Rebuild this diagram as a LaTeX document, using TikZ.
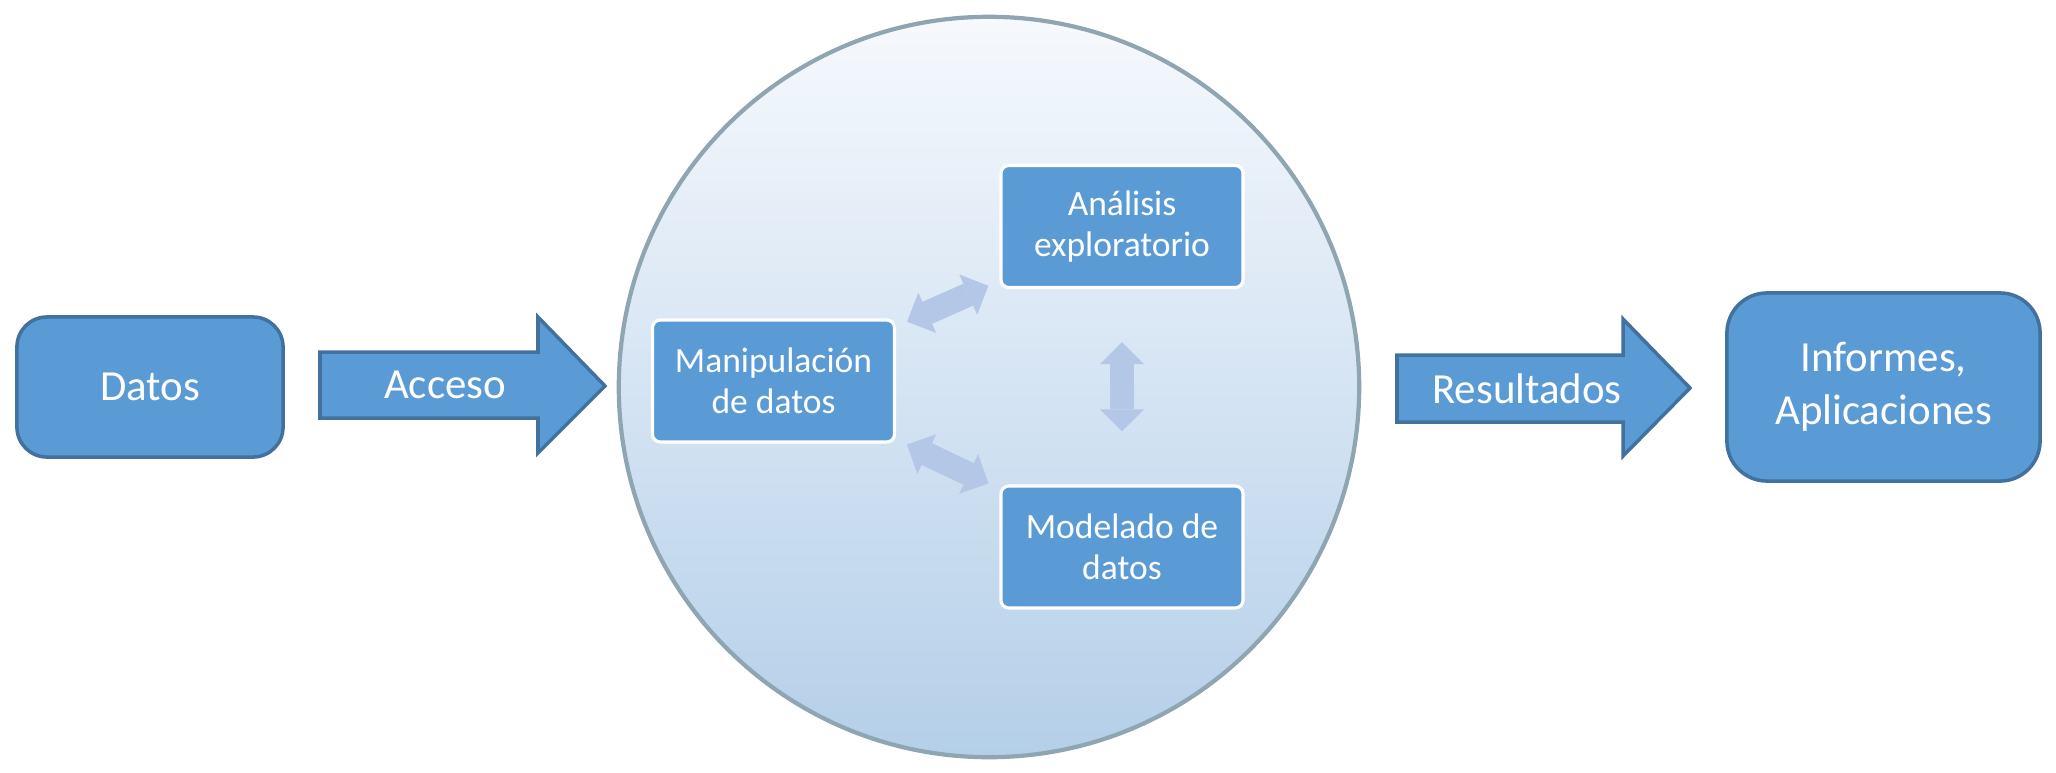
\documentclass[tikz,border=0pt]{standalone}
\usepackage{fontspec}
\setmainfont{Carlito}
\usetikzlibrary{arrows.meta}
\definecolor{cajaazul}{RGB}{91,155,213}
\definecolor{bordeazul}{RGB}{65,113,156}
\definecolor{flechaclara}{RGB}{180,199,231}
\definecolor{bordegris}{RGB}{143,165,178}
\definecolor{nubearriba}{RGB}{246,249,253}
\definecolor{nubeabajo}{RGB}{180,207,233}
\begin{document}
\begin{tikzpicture}[x=0.01cm,y=-0.01cm,
  caja/.style={draw=bordeazul,line width=1pt,fill=cajaazul,text=white,
    rounded corners=0.3cm,align=center,font=\fontsize{12.2}{15}\selectfont},
  interna/.style={draw=white,line width=0.9pt,fill=cajaazul,text=white,
    rounded corners=0.08cm,align=center,minimum width=2.42cm,minimum height=1.22cm,
    font=\fontsize{10.1}{11.6}\selectfont},
  bloque/.style={draw=bordeazul,line width=1pt,fill=cajaazul,line join=miter},
  rotulo/.style={text=white,font=\fontsize{12.2}{15}\selectfont},
  biflecha/.style={flechaclara,line width=0.24cm,
    {Triangle[width=0.44cm,length=0.22cm,line width=0pt]}-{Triangle[width=0.44cm,length=0.22cm,line width=0pt]}}]
\useasboundingbox (0,0) rectangle (2056,772);
\node[circle,draw=bordegris,line width=1.2pt,top color=nubearriba,bottom color=nubeabajo,
  minimum size=7.4cm,inner sep=0pt] (nube) at (989,387) {};
\node[caja,minimum width=2.66cm,minimum height=1.40cm] (datos) at (150,387) {Datos};
\node[caja,minimum width=3.13cm,minimum height=1.88cm,rounded corners=0.4cm] (informes)
  at (1883.5,387) {Informes,\\Aplicaciones};
\node[interna] (manip) at (773.5,381) {Manipulación\\de datos};
\node[interna] (analisis) at (1122,226.5) {Análisis\\exploratorio};
\node[interna] (modelado) at (1122,547) {Modelado de\\datos};
\draw[bloque] (320,352) -- (538,352) -- (538,317) -- (605,386) -- (538,453) -- (538,418)
  -- (320,418) -- cycle;
\node[rotulo] (acceso) at (445,385) {Acceso};
\draw[bloque] (1397,355) -- (1623,355) -- (1623,319) -- (1690,388) -- (1623,456) -- (1623,422)
  -- (1397,422) -- cycle;
\node[rotulo] (resultados) at (1527,389) {Resultados};
\draw[biflecha,shorten <=0.12cm,shorten >=0.12cm] (manip) -- (analisis);
\draw[biflecha,shorten <=0.12cm,shorten >=0.12cm] (manip) -- (modelado);
\draw[biflecha,shorten <=0.53cm,shorten >=0.53cm] (analisis) -- (modelado);
\end{tikzpicture}
\end{document}
